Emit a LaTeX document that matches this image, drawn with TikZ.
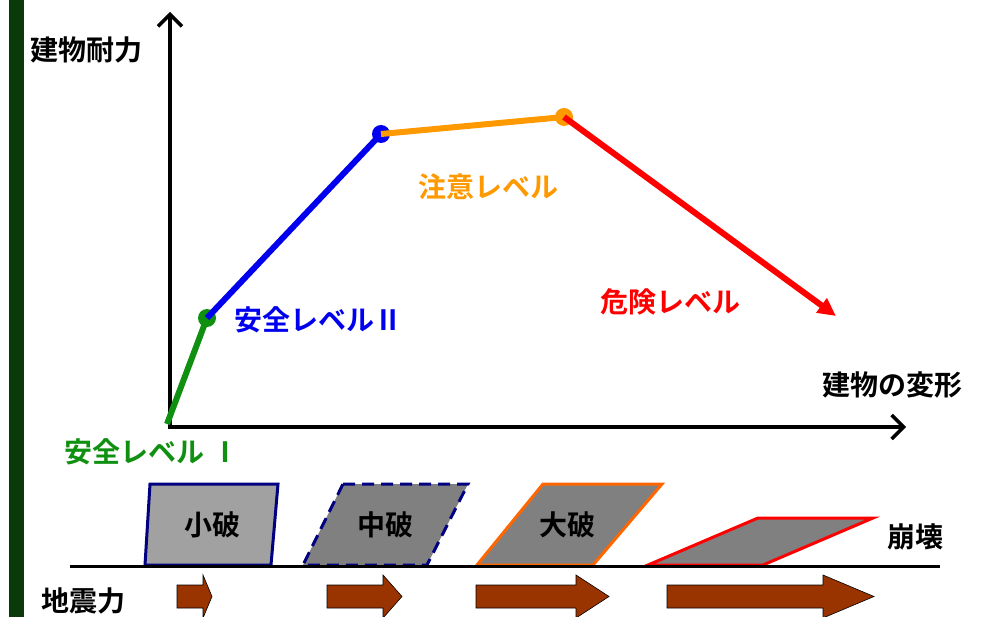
\documentclass[tikz,border=0pt]{standalone}
\usepackage{fontspec}
\setmainfont{Noto Sans CJK JP}[BoldFont={* Bold}]
\usetikzlibrary{arrows.meta}
\definecolor{barg}{HTML}{0A3A0A}
\definecolor{lgreen}{HTML}{109010}
\definecolor{lblue}{HTML}{0000EE}
\definecolor{lorange}{HTML}{FF9900}
\definecolor{lred}{HTML}{FF0000}
\definecolor{navyb}{HTML}{000080}
\definecolor{bigor}{HTML}{FF6600}
\definecolor{brownar}{HTML}{993300}
\tikzset{
  lbl/.style={font=\bfseries\fontsize{28}{28}\selectfont, inner sep=0pt},
  axis/.style={line width=3.5pt, -{Straight Barb[length=12pt,width=24pt,line width=3.5pt]}},
  seg/.style={line width=6pt},
  dot/.style={circle, fill=#1, minimum size=18pt, inner sep=0pt},
  bld/.style={line width=3pt, line join=miter},
  quake/.style={draw=black, line width=0.6pt, fill=brownar},
}
\begin{document}
\begin{tikzpicture}[x=1pt,y=-1pt]
\useasboundingbox (0,0) rectangle (985,617);
\fill[white] (0,0) rectangle (985,617);
\fill[barg] (9,0) rectangle (24,617);
% axes
\coordinate (O) at (170,427);
\coordinate (ytop) at (170,12);
\coordinate (xend) at (906,427);
\draw[axis] (O) -- (ytop);
\draw[axis] ([xshift=-1.75pt]O) -- (xend);
\node[lbl] (ylab) at (86,50) {建物耐力};
\node[lbl] (xlab) at (892,385) {建物の変形};
% curve
\coordinate (p0) at (167,424);
\node[dot=lgreen] (p1) at (207,318) {};
\node[dot=lblue] (p2) at (381,134) {};
\node[dot=lorange] (p3) at (564,117) {};
\coordinate (p4) at (836,316);
\draw[seg, lgreen] (p0) -- (p1.center);
\draw[seg, lblue] (p1.center) -- (p2.center);
\draw[seg, lorange] (p2.center) -- (p3.center);
\draw[seg, lred, -{Triangle[length=18pt,width=17pt]}] (p3.center) -- (p4);
\node[lbl, text=lblue] (l2) at (318,320) {安全レベルⅡ};
\node[lbl, text=lorange] (lc) at (488,187) {注意レベル};
\node[lbl, text=lred] (ld) at (670,302) {危険レベル};
\node[lbl, text=lgreen] (l1) at (152,452) {安全レベル Ⅰ};
% buildings
\draw[bld, draw=navyb, fill=black!37] (150,484) -- (278,484) -- (271,565) -- (145,565) -- cycle;
\draw[bld, draw=navyb, fill=black!50, dash pattern=on 12pt off 7pt] (343,484) -- (468,484) -- (427,565) -- (303,565) -- cycle;
\draw[bld, draw=bigor, fill=black!50] (543,484) -- (662,484) -- (593,565) -- (477,565) -- cycle;
\draw[bld, draw=lred, fill=black!50] (758,518) -- (873,518) -- (763,565) -- (648,565) -- cycle;
\draw[line width=3pt] (70,566) -- (940,566);
\node[lbl] (b1) at (212,525) {小破};
\node[lbl] (b2) at (385,525) {中破};
\node[lbl] (b3) at (567,525) {大破};
\node[lbl] (b4) at (915,537) {崩壊};
\node[lbl] (qk) at (83,601) {地震力};
% quake arrows
\draw[quake] (177,585) -- (203,585) -- (203,575) -- (212,596.5) -- (203,618) -- (203,608) -- (177,608) -- cycle;
\draw[quake] (327,585) -- (383,585) -- (383,575) -- (402,596.5) -- (383,618) -- (383,608) -- (327,608) -- cycle;
\draw[quake] (476,585) -- (576,585) -- (576,575) -- (609,596.5) -- (576,618) -- (576,608) -- (476,608) -- cycle;
\draw[quake] (667,585) -- (823,585) -- (823,575) -- (874,596.5) -- (823,618) -- (823,608) -- (667,608) -- cycle;
\end{tikzpicture}
\end{document}
